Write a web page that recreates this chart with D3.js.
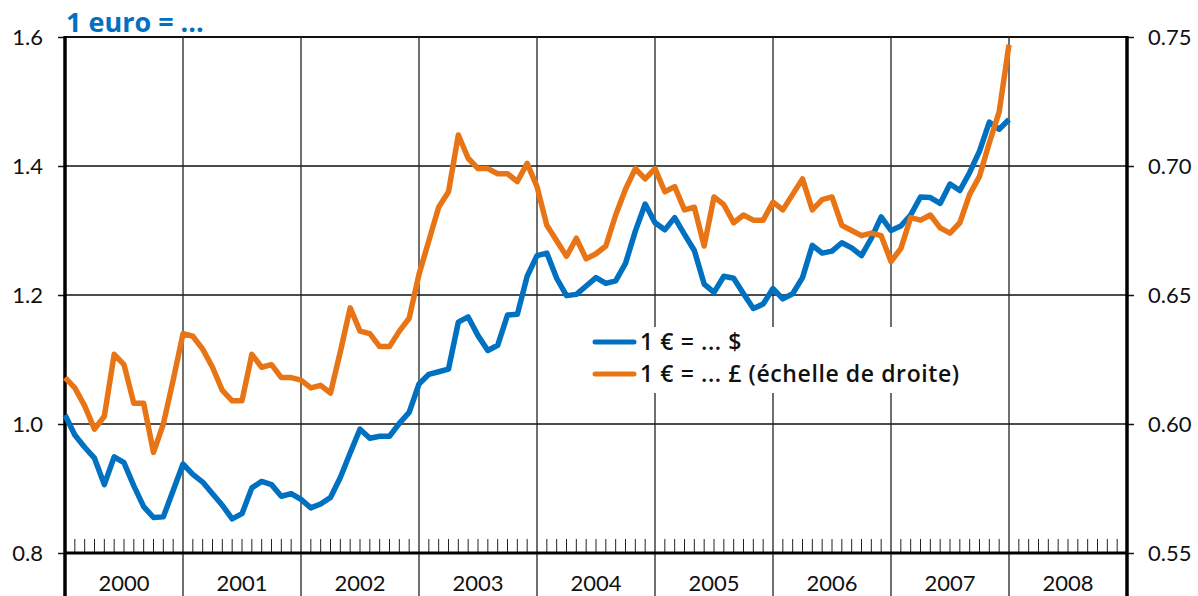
<!doctype html>
<html lang="fr">
<head>
<meta charset="UTF-8">
<title>1 euro = ...</title>
<script src="https://cdn.jsdelivr.net/npm/d3@7"></script>
<style>
  body { margin: 0; background: #fff; }
  svg text { font-family: Lato, "Open Sans", sans-serif; }
  svg text.wide { font-family: "Open Sans", Lato, sans-serif; }
</style>
</head>
<body>
<div id="chart"></div>
<script>
// monthly averages, Jan 2000 .. Jan 2008
var startYear = 2000;
var years = [2000, 2001, 2002, 2003, 2004, 2005, 2006, 2007, 2008];
var leftTicks = [0.8, 1.0, 1.2, 1.4, 1.6];
var rightTicks = [0.55, 0.60, 0.65, 0.70, 0.75];

var usd = [
  1.014, 0.983, 0.964, 0.947, 0.906, 0.949, 0.940, 0.904, 0.872, 0.855, 0.856, 0.897,
  0.938, 0.922, 0.910, 0.892, 0.874, 0.853, 0.861, 0.901, 0.911, 0.906, 0.888, 0.892,
  0.883, 0.870, 0.876, 0.886, 0.917, 0.955, 0.992, 0.978, 0.981, 0.981, 1.001, 1.018,
  1.062, 1.077, 1.081, 1.085, 1.158, 1.166, 1.137, 1.114, 1.122, 1.169, 1.170, 1.229,
  1.261, 1.265, 1.226, 1.199, 1.201, 1.214, 1.227, 1.218, 1.222, 1.249, 1.299, 1.341,
  1.312, 1.301, 1.320, 1.294, 1.269, 1.217, 1.204, 1.229, 1.226, 1.202, 1.179, 1.186,
  1.210, 1.194, 1.202, 1.227, 1.277, 1.265, 1.268, 1.281, 1.273, 1.261, 1.288, 1.321,
  1.300, 1.307, 1.324, 1.352, 1.351, 1.342, 1.372, 1.362, 1.390, 1.423, 1.468, 1.457,
  1.472
];

var gbp = [
  0.618, 0.614, 0.607, 0.598, 0.603, 0.627, 0.623, 0.608, 0.608, 0.589, 0.600, 0.617,
  0.635, 0.634, 0.629, 0.622, 0.613, 0.609, 0.609, 0.627, 0.622, 0.623, 0.618, 0.618,
  0.617, 0.614, 0.615, 0.612, 0.628, 0.645, 0.636, 0.635, 0.630, 0.630, 0.636, 0.641,
  0.658, 0.671, 0.684, 0.690, 0.712, 0.703, 0.699, 0.699, 0.697, 0.697, 0.694, 0.701,
  0.692, 0.677, 0.671, 0.665, 0.672, 0.664, 0.666, 0.669, 0.681, 0.691, 0.699, 0.695,
  0.699, 0.690, 0.692, 0.683, 0.684, 0.669, 0.688, 0.685, 0.678, 0.681, 0.679, 0.679,
  0.686, 0.683, 0.689, 0.695, 0.683, 0.687, 0.688, 0.677, 0.675, 0.673, 0.674, 0.673,
  0.663, 0.668, 0.680, 0.679, 0.681, 0.676, 0.674, 0.678, 0.689, 0.696, 0.709, 0.721,
  0.747
];

var W = 1198, H = 596;
var blue = "#0070c0", orange = "#e87515";

var svg = d3.select("#chart").append("svg")
  .attr("width", W).attr("height", H);

var x = d3.scaleLinear().domain([2000, 2009]).range([65, 1127]);
var yL = d3.scaleLinear().domain([0.8, 1.6]).range([553, 37]);
var yR = d3.scaleLinear().domain([0.55, 0.75]).range([553, 37]);

function mx(d, i) { return x(startYear + i / 12); }

// horizontal grid
svg.append("g").selectAll("line").data(leftTicks.slice(1)).enter().append("line")
  .attr("x1", x(2000)).attr("x2", x(2009))
  .attr("y1", function(d) { return yL(d); }).attr("y2", function(d) { return yL(d); })
  .attr("stroke", "#111").attr("stroke-width", function(d) { return d == 1.6 ? 2.2 : 1.6; });

// year separators, running down under the axis
svg.append("g").selectAll("line").data(years.slice(1)).enter().append("line")
  .attr("x1", function(d) { return x(d); }).attr("x2", function(d) { return x(d); })
  .attr("y1", yL(1.6)).attr("y2", H)
  .attr("stroke", "#222").attr("stroke-width", 1.3);

// monthly ticks
var months = [];
years.forEach(function(yr) { for (var m = 1; m < 12; m++) months.push(yr + m / 12); });
svg.append("g").selectAll("line").data(months).enter().append("line")
  .attr("x1", function(d) { return x(d); }).attr("x2", function(d) { return x(d); })
  .attr("y1", 539).attr("y2", yL(0.8))
  .attr("stroke", "#222").attr("stroke-width", 1);

// axes
var ax = svg.append("g").attr("transform", "translate(" + x(2000) + ",0)")
  .call(d3.axisLeft(yL).tickValues(leftTicks).tickSize(7).tickPadding(15)
    .tickFormat(d3.format(".1f")));
var axR = svg.append("g").attr("transform", "translate(" + x(2009) + ",0)")
  .call(d3.axisRight(yR).tickValues(rightTicks).tickSize(7).tickPadding(14)
    .tickFormat(d3.format(".2f")));
[ax, axR].forEach(function(a) {
  a.select(".domain").remove();
  a.selectAll(".tick line").attr("stroke", "#111").attr("stroke-width", 1.5);
  a.selectAll(".tick text").attr("font-size", 22).attr("fill", "#111");
});

svg.append("line").attr("x1", x(2000)).attr("x2", x(2000)).attr("y1", yL(1.6) - 1).attr("y2", H)
  .attr("stroke", "#000").attr("stroke-width", 3.5);
svg.append("line").attr("x1", x(2009)).attr("x2", x(2009)).attr("y1", yL(1.6) - 1).attr("y2", H)
  .attr("stroke", "#000").attr("stroke-width", 3.5);
svg.append("line").attr("x1", x(2000)).attr("x2", x(2009)).attr("y1", yL(0.8)).attr("y2", yL(0.8))
  .attr("stroke", "#000").attr("stroke-width", 3);

// year labels
svg.append("g").selectAll("text").data(years).enter().append("text")
  .attr("x", function(d) { return x(d + 0.5); }).attr("y", 591)
  .attr("text-anchor", "middle").attr("font-size", 22).attr("fill", "#111")
  .text(function(d) { return d; });

// series
var lineL = d3.line().x(mx).y(function(d) { return yL(d); });
var lineR = d3.line().x(mx).y(function(d) { return yR(d); });

svg.append("path").datum(usd).attr("d", lineL)
  .attr("fill", "none").attr("stroke", blue).attr("stroke-width", 5.5).attr("stroke-linejoin", "round");
svg.append("path").datum(gbp).attr("d", lineR)
  .attr("fill", "none").attr("stroke", orange).attr("stroke-width", 5.5).attr("stroke-linejoin", "round");

// legend
var leg = svg.append("g");
leg.append("rect").attr("x", 588).attr("y", 327).attr("width", 390).attr("height", 66).attr("fill", "#fff");
var items = [
  { label: "1 € = ... $", color: blue, y: 342 },
  { label: "1 € = ... £ (échelle de droite)", color: orange, y: 374 }
];
items.forEach(function(it) {
  leg.append("line").attr("x1", 595).attr("x2", 634).attr("y1", it.y).attr("y2", it.y)
    .attr("stroke", it.color).attr("stroke-width", 5).attr("stroke-linecap", "round");
  leg.append("text").attr("class", "wide").attr("x", 640).attr("y", it.y + 8).attr("font-size", 23)
    .attr("font-weight", 600).attr("letter-spacing", 0.6).attr("fill", "#111").text(it.label);
});

// title
svg.append("text").attr("class", "wide").attr("x", 66).attr("y", 32).attr("font-size", 27).attr("font-weight", 700)
  .attr("fill", blue).text("1 euro = ...");
</script>
</body>
</html>
